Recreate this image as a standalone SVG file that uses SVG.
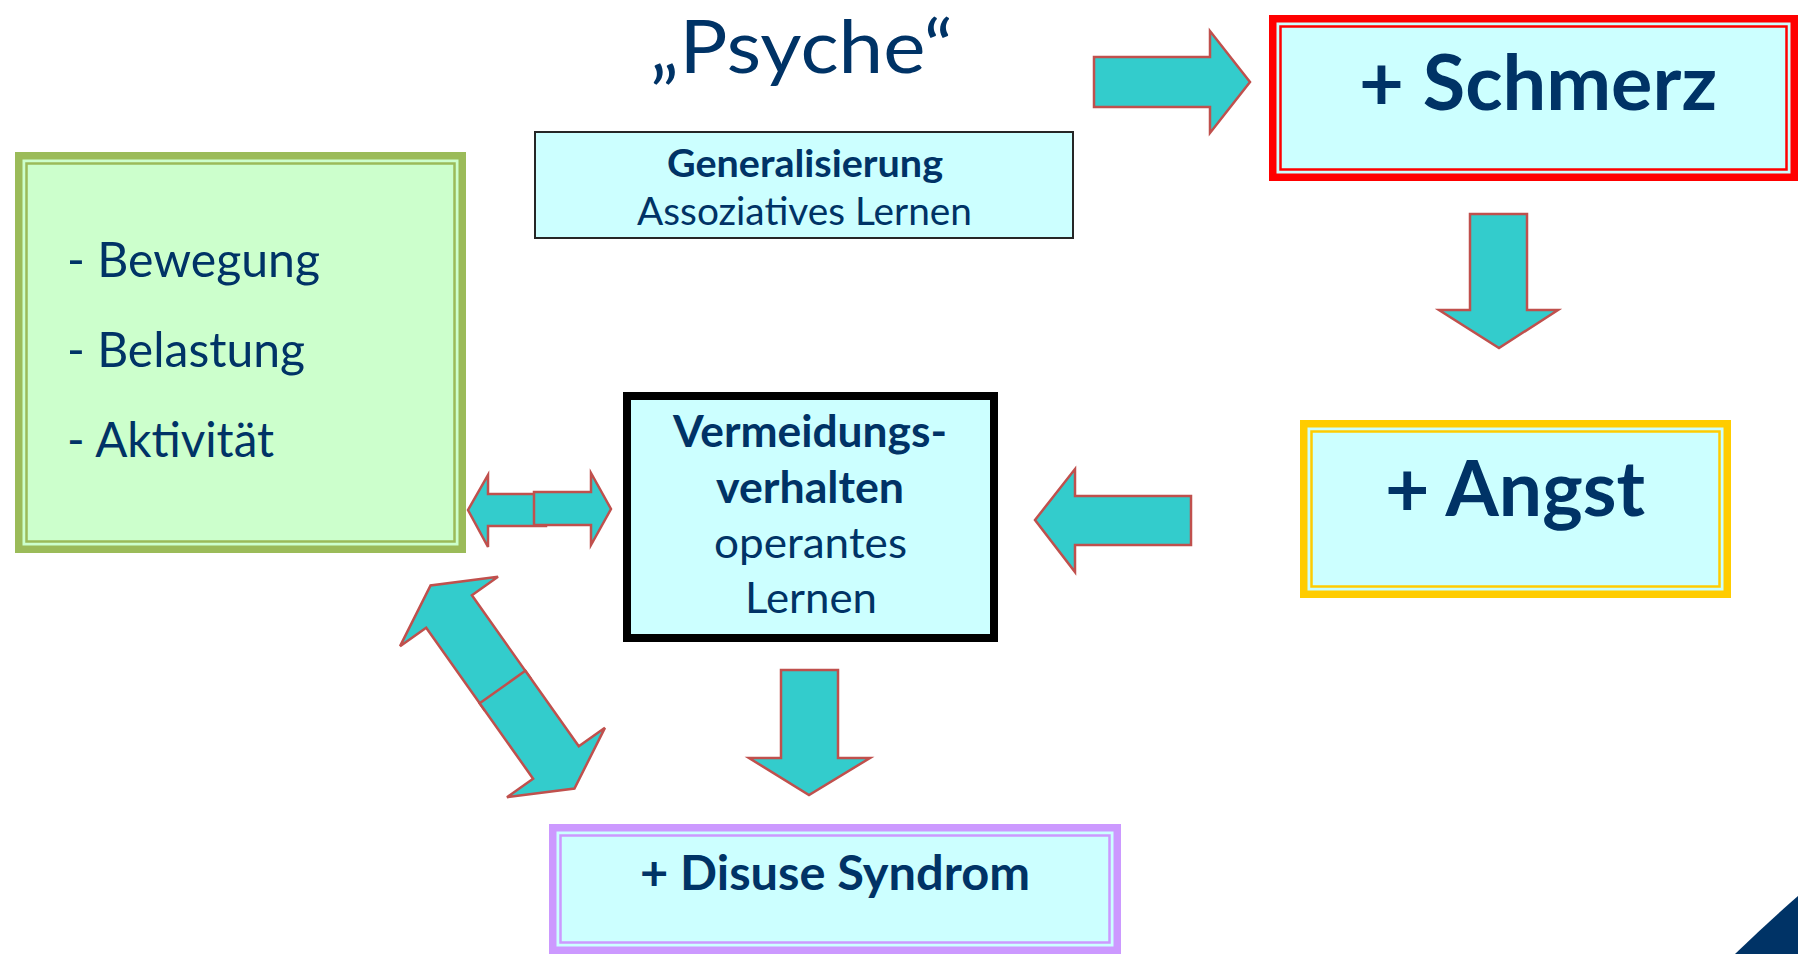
<svg xmlns="http://www.w3.org/2000/svg" width="1798" height="954" viewBox="0 0 1798 954">
  <style>
    text { font-family: Lato, "Open Sans", "Liberation Sans", sans-serif; fill: #003366; }
    .b { font-weight: bold; }
    .c { text-anchor: middle; }
    .arrow { fill: #33CCCC; stroke: #C0504D; stroke-width: 2.5; stroke-linejoin: miter; }
    .cyan { fill: #CCFFFF; }
  </style>
  <rect x="0" y="0" width="1798" height="954" fill="#FFFFFF"/>

  <g id="title">
    <text class="c" x="801.5" y="72.5" font-size="73" textLength="303" lengthAdjust="spacingAndGlyphs">„Psyche“</text>
  </g>

  <g id="generalisierung">
    <rect x="535" y="132" width="538" height="106" class="cyan" stroke="#262626" stroke-width="2"/>
    <text class="c b" x="805" y="177" font-size="38" textLength="276" lengthAdjust="spacingAndGlyphs">Generalisierung</text>
    <text class="c" x="804.5" y="225" font-size="38" textLength="335" lengthAdjust="spacingAndGlyphs">Assoziatives Lernen</text>
  </g>

  <g id="koerper">
    <rect x="18.75" y="155.75" width="443.5" height="393.5" fill="#CCFFCC" stroke="#9BBB59" stroke-width="7.5"/>
    <rect x="26.5" y="163.5" width="428" height="378" fill="none" stroke="#9BBB59" stroke-width="2.5"/>
    <text x="67" y="277" font-size="48" textLength="253" lengthAdjust="spacingAndGlyphs">- Bewegung</text>
    <text x="67" y="367" font-size="48" textLength="238" lengthAdjust="spacingAndGlyphs">- Belastung</text>
    <text x="67" y="457" font-size="48" textLength="207" lengthAdjust="spacingAndGlyphs">- Aktivität</text>
  </g>

  <g id="schmerz">
    <rect x="1272.75" y="18.75" width="521.5" height="158.5" class="cyan" stroke="#FF0000" stroke-width="7.5"/>
    <rect x="1280.5" y="26.5" width="506" height="143" fill="none" stroke="#FF0000" stroke-width="2.5"/>
    <text class="c b" x="1538" y="110" font-size="76" textLength="358" lengthAdjust="spacingAndGlyphs">+ Schmerz</text>
  </g>

  <g id="angst">
    <rect x="1303.75" y="423.75" width="423.5" height="170.5" class="cyan" stroke="#FFCC00" stroke-width="7.5"/>
    <rect x="1311.5" y="431.5" width="408" height="155" fill="none" stroke="#FFCC00" stroke-width="2.5"/>
    <text class="c b" x="1515" y="516" font-size="76" textLength="260" lengthAdjust="spacingAndGlyphs">+ Angst</text>
  </g>

  <g id="vermeidung">
    <rect x="627" y="396" width="367" height="242" class="cyan" stroke="#000000" stroke-width="8"/>
    <text class="c b" x="810" y="447" font-size="43" textLength="274" lengthAdjust="spacingAndGlyphs">Vermeidungs-</text>
    <text class="c b" x="810" y="503" font-size="43" textLength="188" lengthAdjust="spacingAndGlyphs">verhalten</text>
    <text class="c" x="810.5" y="558" font-size="43" textLength="193" lengthAdjust="spacingAndGlyphs">operantes</text>
    <text class="c" x="811" y="613" font-size="43" textLength="132" lengthAdjust="spacingAndGlyphs">Lernen</text>
  </g>

  <g id="disuse">
    <rect x="552.75" y="827.75" width="564.5" height="122.5" class="cyan" stroke="#CC99FF" stroke-width="7.5"/>
    <rect x="560.5" y="835.5" width="549" height="107" fill="none" stroke="#CC99FF" stroke-width="2.5"/>
    <text class="c b" x="835" y="890" font-size="47" textLength="390" lengthAdjust="spacingAndGlyphs">+ Disuse Syndrom</text>
  </g>

  <g id="connectors">
    <polygon class="arrow" points="1094,57 1210,57 1210,31 1250,82 1210,133 1210,107 1094,107"/>
    <polygon class="arrow" points="1470,214 1527,214 1527,310 1558,310 1499,348 1439,310 1470,310"/>
    <polygon class="arrow" points="1191,496 1075,496 1075,469 1035,520 1075,572 1075,545 1191,545"/>
    <polygon class="arrow" points="781,670 838,670 838,758 870,758 809,795 749,758 781,758"/>
    <polygon class="arrow" points="546,494 488,494 488,475 468,510 488,547 488,526 546,526"/>
    <polygon class="arrow" points="534,492 591,492 591,473 611,509 591,545 591,525 534,525"/>
    <g transform="translate(502.5,687) rotate(54.7)">
      <polygon class="arrow" points="8,-28 -92.5,-28 -92.5,-60 -124.5,0 -92.5,60 -92.5,28 8,28"/>
      <polygon class="arrow" points="0,-28 92.5,-28 92.5,-60 124.5,0 92.5,60 92.5,28 0,28"/>
    </g>
  </g>

  <g id="corner">
    <path d="M1735,954 Q1768,922 1798,896 L1798,954 Z" fill="#003366"/>
  </g>
</svg>
